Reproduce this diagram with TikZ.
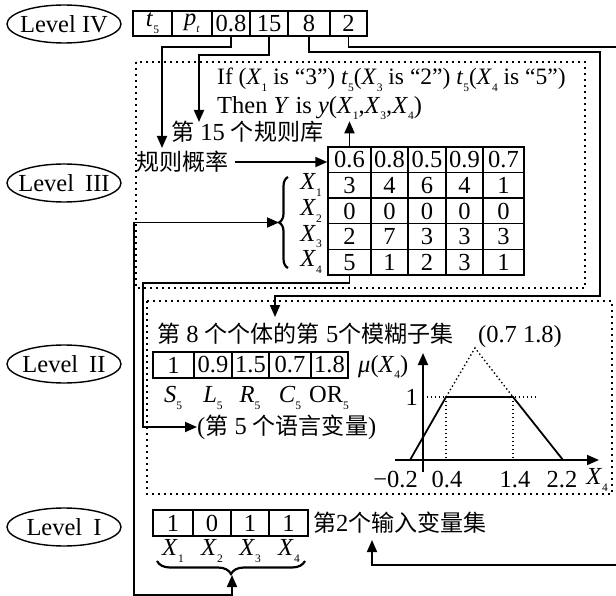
\documentclass[tikz,border=0pt]{standalone}
\usepackage{fontspec}
\setmainfont{Liberation Serif}
\newfontfamily\cjk[Scale=0.94]{Noto Sans CJK SC}
\usetikzlibrary{arrows.meta,decorations.pathreplacing,shapes.geometric,calc}
\newcommand\sbs[1]{\raisebox{-0.28em}{\fontsize{11.5}{11.5}\selectfont #1}}
\newcommand\vX[1]{\textit{X}\sbs{#1}}
\newcommand\vt{\textit{t}\sbs{5}}
\begin{document}
\begin{tikzpicture}[x=1pt,y=1pt,
  every node/.style={font=\fontsize{24.5}{27}\selectfont, inner sep=0pt},
  cell/.style={draw, line width=1.4pt, inner sep=0pt, anchor=center},
  lvl/.style={draw, ellipse, line width=1.4pt, minimum width=114pt, minimum height=38pt},
  conn/.style={line width=1.8pt},
  arr/.style={conn, -{Triangle[length=12pt,width=10pt]}},
  dotbox/.style={line width=1.6pt, dash pattern=on 1.6pt off 4.4pt},
  dotln/.style={line width=1.4pt, dash pattern=on 1.4pt off 2.6pt},
  br/.style={decorate, decoration={brace, amplitude=#1}, line width=2.2pt}
]
\useasboundingbox (0,0) rectangle (616,-596);

% level ellipses
\node[lvl] (L4) at (64,-24) {\makebox[0pt]{Level IV}};
\node[lvl] (L3) at (64,-183) {\makebox[0pt]{Level\hspace{0.45em}III}};
\node[lvl] (L2) at (64,-364) {\makebox[0pt]{Level\hspace{0.45em}II}};
\node[lvl] (L1) at (64,-527) {\makebox[0pt]{Level\hspace{0.45em}I}};

% Level IV chromosome
\node[cell, minimum width=39pt, minimum height=25pt] (a1) at (152.5,-23.5) {\vt};
\node[cell, minimum width=40pt, minimum height=25pt] (a2) at (192,-23.5) {\textit{p}\sbs{\textit{t}}};
\node[cell, minimum width=38pt, minimum height=25pt] (a3) at (231,-23.5) {0.8};
\node[cell, minimum width=38pt, minimum height=25pt] (a4) at (269,-23.5) {15};
\node[cell, minimum width=42pt, minimum height=25pt] (a5) at (309,-23.5) {8};
\node[cell, minimum width=37pt, minimum height=25pt] (a6) at (348.5,-23.5) {2};

% dotted frames
\draw[dotbox] (136,-62) rectangle (585,-288);
\draw[dotbox] (147,-301) rectangle (612,-494);

% Level III
\node[anchor=west, font=\fontsize{23.5}{26}\selectfont] (ifl) at (217,-80) {If (\vX1 is “3”) \vt(\vX3 is “2”) \vt(\vX4 is “5”)};
\node[anchor=west] (then) at (217,-108) {Then \textit{Y} is \textit{y}(\vX1,\vX3,\vX4)};
\node[anchor=west] (rb) at (171,-132) {{\cjk 第} 15 {\cjk 个规则库}};
\node[anchor=west] (gl) at (136,-162) {\cjk 规则概率};

\foreach \r/\yc/\vals in {0/159.8/{0.6,0.8,0.5,0.9,0.7},1/185.4/{3,4,6,4,1},2/211/{0,0,0,0,0},3/236.6/{2,7,3,3,3},4/262.2/{5,1,2,3,1}}{
  \foreach \v [count=\c] in \vals {
    \pgfmathsetmacro\xc{{349.5,389.5,427,464.5,503.5}[\c-1]}
    \pgfmathsetmacro\w{{43,37,38,37,41}[\c-1]}
    \node[cell, minimum width=\w pt, minimum height=25.6pt] (t\r\c) at (\xc,-\yc) {\v};
  }
}
\node (x1) at (311,-185.4) {\vX1};
\node (x2) at (311,-211) {\vX2};
\node (x3) at (311,-236.6) {\vX3};
\node (x4) at (311,-262.2) {\vX4};
\draw[br=9pt] (288,-268) -- (288,-177);
\coordinate (b3tip) at (279,-222.5);

% Level II
\node[anchor=west] (l2t) at (157,-334) {{\cjk 第} 8 {\cjk 个个体的第} 5{\cjk 个模糊子集}};
\node (peak) at (520,-337) {(0.7 1.8)};
\node[cell, minimum width=41pt, minimum height=26pt] (s1) at (173.5,-365) {1};
\node[cell, minimum width=38pt, minimum height=26pt] (s2) at (213,-365) {0.9};
\node[cell, minimum width=37pt, minimum height=26pt] (s3) at (250.5,-365) {1.5};
\node[cell, minimum width=42pt, minimum height=26pt] (s4) at (290,-365) {0.7};
\node[cell, minimum width=37pt, minimum height=26pt] (s5) at (329.5,-365) {1.8};
\node (ls1) at (173,-398) {\textit{S}\sbs{5}};
\node (ls2) at (213,-398) {\textit{L}\sbs{5}};
\node (ls3) at (250,-398) {\textit{R}\sbs{5}};
\node (ls4) at (290,-398) {\textit{C}\sbs{5}};
\node (ls5) at (329,-398) {OR\sbs{5}};
\node[anchor=west] (lv) at (197,-427) {({\cjk 第} 5 {\cjk 个语言变量})};
\node[anchor=west] (mu) at (358,-367) {\textit{μ}(\vX4)};

% membership graph
\draw[dotln] (423,-397) -- (537,-397);
\draw[dotln] (446,-397) -- (446,-460);
\draw[dotln] (513,-397) -- (513,-460);
\draw[dotln] (446,-397) -- (475,-348) -- (513,-397);
\draw[conn] (410,-460) -- (446,-397) -- (513,-397) -- (563,-460);
\draw[arr] (395,-460) -- (599,-460);
\draw[arr] (423,-472) -- (423,-353);
\node[anchor=east] (one) at (418,-397) {1};
\node[anchor=east] (tk1) at (418,-480) {−0.2};
\node (tk2) at (447,-480) {0.4};
\node (tk3) at (515,-480) {1.4};
\node (tk4) at (562,-480) {2.2};
\node (tk5) at (597,-480) {\vX4};

% Level I
\node[cell, minimum width=40pt, minimum height=26pt] (i1) at (173,-523) {1};
\node[cell, minimum width=38pt, minimum height=26pt] (i2) at (212,-523) {0};
\node[cell, minimum width=38pt, minimum height=26pt] (i3) at (250,-523) {1};
\node[cell, minimum width=39pt, minimum height=26pt] (i4) at (288.5,-523) {1};
\node[anchor=west] (in2) at (313,-523) {{\cjk 第}2{\cjk 个输入变量集}};
\node (y1) at (173,-551) {\vX1};
\node (y2) at (212,-551) {\vX2};
\node (y3) at (250,-551) {\vX3};
\node (y4) at (289,-551) {\vX4};
\draw[br=13pt] (305,-561) -- (157,-561);
\coordinate (b1tip) at (232,-575);

% connectors
\draw[arr] (a3.south) |- (162,-47) -- (162,-148);
\draw[arr] (a4.south) |- (199,-55) -- (199,-122);
\draw[arr] (a5.south) |- (600,-52) |- (275,-296) -- (275,-317);
\draw[arr] (a6.south) |- (640,-47) |- (372,-565) -- (372,-540);
\draw[arr] ([xshift=6pt]gl.east) -- (gl.east -| t01.west);
\draw[arr] (t01.north) -- ++(0,25);
\draw[arr] (t41.south) -- ++(0,-7) -| (143,-427) -- (lv.west);
\draw[conn, {Triangle[length=12pt,width=10pt]}-{Triangle[length=12pt,width=10pt]}] (b1tip) -- (232,-595) -| (134,-222.5) -- (b3tip);
\end{tikzpicture}
\end{document}
